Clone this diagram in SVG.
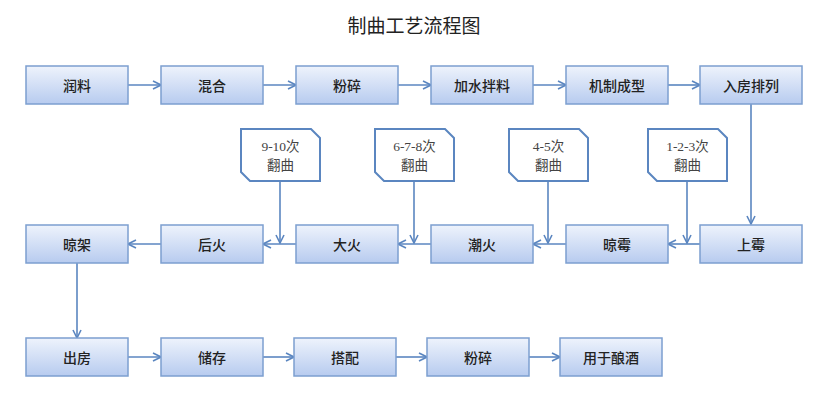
<svg xmlns="http://www.w3.org/2000/svg" width="831" height="404" viewBox="0 0 831 404">
<defs>
<linearGradient id="g" x1="0" y1="0" x2="0" y2="1">
<stop offset="0" stop-color="#eef3fc"/>
<stop offset="1" stop-color="#b7cbef"/>
</linearGradient>
<marker id="ah" viewBox="0 0 10 10" refX="9" refY="5" markerWidth="10" markerHeight="10" markerUnits="userSpaceOnUse" orient="auto">
<path d="M1,1 L9,5 L1,9" fill="none" stroke="#5b86c0" stroke-width="1.6"/>
</marker>
<style>
.box{fill:url(#g);stroke:#7c9fd0;stroke-width:1.5}
.t{font-family:"Noto Sans CJK SC","Liberation Sans",sans-serif;font-size:14px;font-weight:500;fill:#222;text-anchor:middle;dominant-baseline:central}
.c{fill:#fff;stroke:#5b86c0;stroke-width:2}
.ct{font-family:"Liberation Serif","Noto Sans CJK SC",serif;font-size:13.5px;fill:#444;text-anchor:middle}
.ln{fill:none;stroke:#5b86c0;stroke-width:1.6;marker-end:url(#ah)}
.title{font-family:"Noto Sans CJK SC",sans-serif;font-size:19px;fill:#222;text-anchor:middle}
</style>
</defs>
<rect width="831" height="404" fill="#fff"/>
<text class="title" x="414" y="33">制曲工艺流程图</text>

<g id="connectors">
<path class="ln" d="M128,85 H161"/>
<path class="ln" d="M263,85 H296"/>
<path class="ln" d="M398,85 H431"/>
<path class="ln" d="M533,85 H566"/>
<path class="ln" d="M668,85 H700"/>
<path class="ln" d="M751,104 V224"/>
<path class="ln" d="M700,244 H668"/>
<path class="ln" d="M566,244 H533"/>
<path class="ln" d="M431,244 H398"/>
<path class="ln" d="M296,244 H263"/>
<path class="ln" d="M161,244 H128"/>
<path class="ln" d="M77,263 V338"/>
<path class="ln" d="M128,357 H161"/>
<path class="ln" d="M263,357 H294"/>
<path class="ln" d="M396,357 H427"/>
<path class="ln" d="M529,357 H560"/>
<path class="ln" d="M280,181 V243"/>
<path class="ln" d="M414,181 V243"/>
<path class="ln" d="M548,181 V243"/>
<path class="ln" d="M687,181 V243"/>
</g>

<g id="n1"><rect class="box" x="26" y="66" width="102" height="38"/><text class="t" x="77" y="85">润料</text></g>
<g id="n2"><rect class="box" x="161" y="66" width="102" height="38"/><text class="t" x="212" y="85">混合</text></g>
<g id="n3"><rect class="box" x="296" y="66" width="102" height="38"/><text class="t" x="347" y="85">粉碎</text></g>
<g id="n4"><rect class="box" x="431" y="66" width="102" height="38"/><text class="t" x="482" y="85">加水拌料</text></g>
<g id="n5"><rect class="box" x="566" y="66" width="102" height="38"/><text class="t" x="617" y="85">机制成型</text></g>
<g id="n6"><rect class="box" x="700" y="66" width="102" height="38"/><text class="t" x="751" y="85">入房排列</text></g>

<g id="n7"><rect class="box" x="26" y="225" width="102" height="38"/><text class="t" x="77" y="244">晾架</text></g>
<g id="n8"><rect class="box" x="161" y="225" width="102" height="38"/><text class="t" x="212" y="244">后火</text></g>
<g id="n9"><rect class="box" x="296" y="225" width="102" height="38"/><text class="t" x="347" y="244">大火</text></g>
<g id="n10"><rect class="box" x="431" y="225" width="102" height="38"/><text class="t" x="482" y="244">潮火</text></g>
<g id="n11"><rect class="box" x="566" y="225" width="102" height="38"/><text class="t" x="617" y="244">晾霉</text></g>
<g id="n12"><rect class="box" x="700" y="225" width="102" height="38"/><text class="t" x="751" y="244">上霉</text></g>

<g id="n13"><rect class="box" x="26" y="338" width="102" height="38"/><text class="t" x="77" y="357">出房</text></g>
<g id="n14"><rect class="box" x="161" y="338" width="102" height="38"/><text class="t" x="212" y="357">储存</text></g>
<g id="n15"><rect class="box" x="294" y="338" width="102" height="38"/><text class="t" x="345" y="357">搭配</text></g>
<g id="n16"><rect class="box" x="427" y="338" width="102" height="38"/><text class="t" x="478" y="357">粉碎</text></g>
<g id="n17"><rect class="box" x="560" y="338" width="102" height="38"/><text class="t" x="611" y="357">用于酿酒</text></g>

<g id="c1"><path class="c" d="M241,129 H311 L320,138 V181 H250 L241,172 Z"/><text class="ct" x="280.5" y="151">9-10次</text><text class="ct" x="280.5" y="170">翻曲</text></g>
<g id="c2"><path class="c" d="M375,129 H445 L454,138 V181 H384 L375,172 Z"/><text class="ct" x="414.5" y="151">6-7-8次</text><text class="ct" x="414.5" y="170">翻曲</text></g>
<g id="c3"><path class="c" d="M509,129 H579 L588,138 V181 H518 L509,172 Z"/><text class="ct" x="548.5" y="151">4-5次</text><text class="ct" x="548.5" y="170">翻曲</text></g>
<g id="c4"><path class="c" d="M648,129 H718 L727,138 V181 H657 L648,172 Z"/><text class="ct" x="687.5" y="151">1-2-3次</text><text class="ct" x="687.5" y="170">翻曲</text></g>
</svg>
